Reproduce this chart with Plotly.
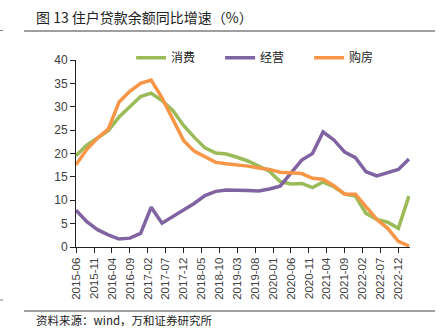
import plotly.graph_objects as go
import pandas as pd

# Quarterly observations, 2015-06 .. 2023-03
dates = pd.date_range("2015-06-01", "2023-03-01", freq="3MS").strftime("%Y-%m-%d").tolist()

consumption = [19.5, 21.8, 23.3, 24.9, 27.8, 30.1, 32.2, 32.9, 31.3, 29.2, 26.0, 23.5,
               21.2, 20.1, 19.9, 19.2, 18.4, 17.3, 16.2, 14.0, 13.5, 13.6, 12.7, 13.9,
               12.9, 11.3, 10.9, 7.2, 5.9, 5.3, 4.0, 10.9]
business = [7.9, 5.4, 3.7, 2.6, 1.7, 1.9, 2.9, 8.5, 5.1, 6.5, 8.0, 9.3,
            11.0, 11.9, 12.2, 12.2, 12.1, 12.0, 12.4, 13.0, 15.8, 18.6, 20.0, 24.6,
            22.9, 20.3, 19.1, 16.1, 15.2, 16.0, 16.6, 18.8]
housing = [17.6, 20.9, 23.3, 25.2, 31.0, 33.3, 35.0, 35.7, 31.9, 27.3, 22.8, 20.5,
           19.2, 18.1, 17.8, 17.6, 17.3, 16.9, 16.6, 16.0, 15.8, 15.7, 14.7, 14.5,
           13.1, 11.3, 11.3, 8.6, 5.9, 4.0, 1.2, 0.2]

series_names = ["消费", "经营", "购房"]
series_colors = ["#9BBB59", "#8064A2", "#F79646"]

tick_labels = ["2015-06", "2015-11", "2016-04", "2016-09", "2017-02", "2017-07",
               "2017-12", "2018-05", "2018-10", "2019-03", "2019-08", "2020-01",
               "2020-06", "2020-11", "2021-04", "2021-09", "2022-02", "2022-07",
               "2022-12"]
y_ticks = [0, 5, 10, 15, 20, 25, 30, 35, 40]

title_text = "图 13 住户贷款余额同比增速（%）"
source_text = "资料来源：wind，万和证券研究所"

FONT = "Noto Sans CJK SC"

fig = go.Figure()
for name, vals, col in zip(series_names, [consumption, business, housing], series_colors):
    fig.add_trace(go.Scatter(x=dates, y=vals, mode="lines", name=name,
                             line=dict(color=col, width=3.5)))

W, H = 443, 329
L, R, T, B = 76, 33, 60, 82


def py(pix):
    return 1 - (pix - T) / (H - T - B)


def px(pix):
    return (pix - L) / (W - L - R)


fig.update_layout(
    width=W, height=H,
    margin=dict(l=L, r=R, t=T, b=B, autoexpand=False),
    paper_bgcolor="white", plot_bgcolor="white",
    font=dict(family=FONT, color="#404040"),
    showlegend=True,
    legend=dict(orientation="h", x=0.165, xanchor="left", y=1.09, yanchor="top",
                font=dict(size=12, color="#222222", family=FONT),
                bgcolor="rgba(0,0,0,0)", entrywidth=44, entrywidthmode="pixels",
                itemwidth=30, tracegroupgap=0),
)

fig.update_xaxes(
    type="date",
    range=["2015-06-01", "2023-03-10"],
    tickvals=[t + "-01" for t in tick_labels],
    ticktext=tick_labels,
    tickangle=-90,
    tickfont=dict(size=11.5, color="#404040", family="Liberation Sans"),
    showgrid=False, zeroline=False,
    showline=True, linecolor="#222222", linewidth=1,
    ticks="outside", ticklen=5, tickcolor="#222222",
    automargin=False,
)
fig.update_yaxes(
    range=[0, 40],
    tickvals=y_ticks,
    tickfont=dict(size=12, color="#404040", family="Liberation Sans"),
    showgrid=False, zeroline=False,
    showline=True, linecolor="#222222", linewidth=1,
    ticks="outside", ticklen=5, tickcolor="#222222",
    automargin=False,
)

# title, rules and source
fig.add_annotation(text=title_text, xref="paper", yref="paper",
                   x=px(34), y=py(17),
                   xanchor="left", yanchor="middle", showarrow=False,
                   font=dict(size=14, color="#222222", family=FONT))
fig.add_annotation(text=source_text, xref="paper", yref="paper",
                   x=px(34), y=py(320),
                   xanchor="left", yanchor="middle", showarrow=False,
                   font=dict(size=11.5, color="#222222", family=FONT))

for yy in [31, 311]:
    fig.add_shape(type="line", xref="paper", yref="paper",
                  x0=px(24), x1=px(435), y0=py(yy), y1=py(yy),
                  line=dict(color="#7f7f7f", width=1.5))
for yy in [30.5, 300]:
    fig.add_shape(type="line", xref="paper", yref="paper",
                  x0=px(0), x1=px(3), y0=py(yy), y1=py(yy),
                  line=dict(color="#7f7f7f", width=1))

fig.write_html("out.html")
